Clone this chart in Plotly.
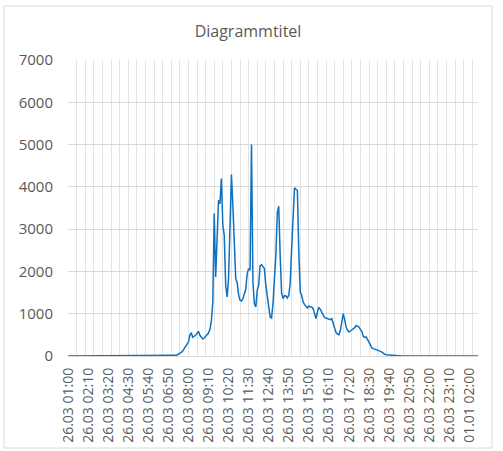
import plotly.graph_objects as go

# Tick labels on the category axis (one every 14 five-minute categories)
tick_labels = [
    "26.03 01:00", "26.03 02:10", "26.03 03:20", "26.03 04:30", "26.03 05:40",
    "26.03 06:50", "26.03 08:00", "26.03 09:10", "26.03 10:20", "26.03 11:30",
    "26.03 12:40", "26.03 13:50", "26.03 15:00", "26.03 16:10", "26.03 17:20",
    "26.03 18:30", "26.03 19:40", "26.03 20:50", "26.03 22:00", "26.03 23:10",
    "01.01 02:00",
]

# Series values (five-minute steps)
night_before = [
    0, 0, 0, 0, 0, 0, 0, 0, 0, 0, 0, 0, 0, 0, 0, 0, 0, 0, 0, 0,
    0, 0, 0, 0, 0, 0, 0, 0, 0, 0, 0, 0, 0, 0, 0, 0, 0, 0, 0, 0,
    0, 0, 0, 0, 0, 0, 0, 0, 0, 0, 0, 0, 0, 0, 0, 0, 0, 0, 0, 0,
    0, 0, 0, 0, 0, 0, 0, 0, 0, 0, 0, 0, 0, 0,
]
daytime = [
    5, 15, 25, 40, 60, 85, 120, 170, 215, 260,
    330, 489, 552, 442, 465, 489, 536, 584, 489, 442,
    402, 426, 465, 513, 544, 631, 828, 1278, 3367, 1869,
    2776, 3683, 3604, 4195, 3091, 2855, 1672, 1396, 1830, 3249,
    4290, 3564, 2697, 1830, 1735, 1451, 1317, 1301, 1356, 1459,
    1577, 1948, 2066, 2027, 5000, 1751, 1238, 1159, 1554, 1672,
    2129, 2161, 2121, 2066, 1672, 1451, 1136, 923, 899, 1238,
    1830, 2382, 3391, 3541, 2382, 1490, 1356, 1427, 1419, 1372,
    1435, 1711, 2539, 3367, 3975, 3943, 3919, 2460, 1514, 1435,
    1278, 1214, 1159, 1136, 1183, 1159, 1159, 1120, 1002, 883,
    1041, 1151, 1104, 1025, 946, 907, 899, 891, 883, 860,
    883, 789, 647, 552, 520, 505, 607, 820, 1002, 860,
    686, 607, 568, 591, 615, 647, 670, 720, 710, 686,
    623, 576, 460, 440, 450, 380, 300, 240, 190, 175,
    165, 158, 145, 128, 110, 90, 60, 40, 28, 24,
    20, 18, 16, 14, 12, 10, 8, 6, 4,
]
night_after = [
    0, 0, 0, 0, 0, 0, 0, 0, 0, 0, 0, 0, 0, 0, 0, 0, 0, 0, 0, 0,
    0, 0, 0, 0, 0, 0, 0, 0, 0, 0, 0, 0, 0, 0, 0, 0, 0, 0, 0, 0,
    0, 0, 0, 0, 0, 0, 0, 0, 0, 0, 0, 0, 0, 0,
]
values = night_before + daytime + night_after

LABEL_STEP = 14
GRID_STEP = 6

x_idx = list(range(len(values)))

TEXT = "#595959"
GRID = "#d9d9d9"
FONT = "Open Sans"

fig = go.Figure()
fig.add_trace(go.Scatter(
    x=x_idx, y=values, mode="lines",
    line=dict(color="#0F70C0", width=1.5),
    hoverinfo="skip", showlegend=False,
))

W, H = 503, 451
L, R, T, B = 68, 25, 60, 95
pw, ph = W - L - R, H - T - B

fig.update_layout(
    width=W, height=H,
    margin=dict(l=L, r=R, t=T, b=B, pad=0, autoexpand=False),
    paper_bgcolor="white", plot_bgcolor="white",
    font=dict(family=FONT, color=TEXT),
    title=dict(text="Diagrammtitel", x=248 / W, xanchor="center",
               y=1 - 31 / H, yanchor="middle",
               font=dict(family=FONT, size=16, color=TEXT)),
    showlegend=False,
    xaxis=dict(
        range=[0, len(values) - 1],
        tickmode="array",
        tickvals=list(range(0, len(values), LABEL_STEP))[:len(tick_labels)],
        ticktext=tick_labels,
        tickangle=-90,
        tickfont=dict(family=FONT, size=14, color=TEXT),
        showgrid=False, zeroline=False, showline=False, ticks="",
        ticklabelstandoff=8,
        minor=dict(tickmode="array",
                   tickvals=list(range(0, len(values), GRID_STEP)),
                   showgrid=True, gridcolor="#e2e2e2", gridwidth=1, ticks=""),
        fixedrange=True,
    ),
    yaxis=dict(
        range=[0, 7000],
        tickmode="array",
        tickvals=[0, 1000, 2000, 3000, 4000, 5000, 6000, 7000],
        ticktext=["0", "1000", "2000", "3000", "4000", "5000", "6000", "7000"],
        tickfont=dict(family=FONT, size=15, color=TEXT),
        showgrid=True, gridcolor=GRID, gridwidth=1,
        zeroline=True, zerolinecolor=GRID, zerolinewidth=1,
        showline=False, ticks="",
        ticklabelstandoff=14,
        fixedrange=True,
    ),
    shapes=[dict(
        type="rect", xref="paper", yref="paper",
        x0=(4 - L) / pw, x1=(492 - L) / pw,
        y0=(H - B - 448) / ph, y1=(H - B - 6) / ph,
        line=dict(color=GRID, width=1), fillcolor="rgba(0,0,0,0)",
        layer="below",
    )],
)

fig.write_html(
    "out.html",
    config={"displayModeBar": False},
    post_script="document.body.style.margin='0';document.body.style.padding='0';",
)
